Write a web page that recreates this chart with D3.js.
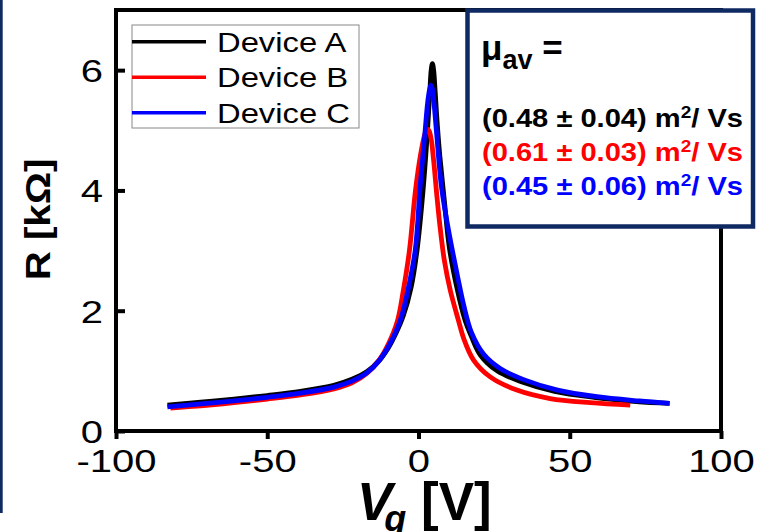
<!DOCTYPE html>
<html>
<head>
<meta charset="utf-8">
<script src="https://cdn.jsdelivr.net/npm/d3@7"></script>
<style>
  body { margin: 0; background: #fff; }
  svg { display: block; }
  text { font-family: "Liberation Sans", Arial, sans-serif; }
</style>
</head>
<body>
<svg id="chart" width="760" height="532"></svg>
<script>
// gate voltage (V) and resistance (kOhm)
const vA = [-83, -72, -61, -50, -39, -28, -22, -17, -13, -10, -7.5, -5, -2.4, -0.5, 1.5, 2.9, 3.7, 4.2, 4.6, 5.0, 5.5, 6.2, 7.0, 8.5, 10.2, 12.7, 15.4, 17.5, 20.5, 26, 34, 45, 58, 72, 83];
const rA = [0.43, 0.48, 0.53, 0.59, 0.66, 0.76, 0.86, 0.99, 1.17, 1.38, 1.62, 1.92, 2.40, 3.0, 4.0, 4.94, 5.6, 6.0, 6.11, 6.0, 5.65, 5.1, 4.6, 3.85, 3.05, 2.38, 1.84, 1.57, 1.26, 1.0, 0.82, 0.66, 0.56, 0.49, 0.46];

const vB = [-82, -72, -61, -50, -39, -28, -22, -17, -13, -10, -7, -5, -3, -1, 0.7, 2.0, 2.5, 3.0, 3.5, 4.2, 5.0, 6.0, 7.0, 8.5, 10.5, 13.2, 15, 18.2, 23.7, 32.5, 43.5, 56.8, 70];
const rB = [0.38, 0.42, 0.47, 0.53, 0.60, 0.70, 0.80, 0.96, 1.18, 1.44, 1.82, 2.34, 3.0, 4.0, 4.6, 4.92, 4.99, 5.02, 4.99, 4.85, 4.5, 3.95, 3.45, 2.85, 2.34, 1.84, 1.53, 1.18, 0.9, 0.68, 0.54, 0.47, 0.43];

const vC = [-83, -72, -61, -50, -39, -28, -22, -17, -13, -10, -7.5, -5.5, -3.5, -1.1, 0.6, 2.1, 3.0, 3.6, 4.1, 4.6, 5.1, 6.0, 7.5, 9, 11, 13, 15, 17.5, 21.5, 27, 35, 46, 59, 73, 83];
const rC = [0.40, 0.45, 0.50, 0.56, 0.63, 0.73, 0.83, 0.97, 1.17, 1.40, 1.65, 1.92, 2.34, 3.0, 4.1, 4.94, 5.45, 5.66, 5.75, 5.68, 5.47, 4.94, 4.1, 3.6, 3.05, 2.55, 2.08, 1.64, 1.28, 1.04, 0.85, 0.68, 0.57, 0.50, 0.46];

const seriesNames = ['Device A', 'Device B', 'Device C'];
const mobilities = ['(0.48 \u00b1 0.04)', '(0.61 \u00b1 0.03)', '(0.45 \u00b1 0.06)'];
const xTicks = [-100, -50, 0, 50, 100];
const yTicks = [0, 2, 4, 6];

const colors = ['#000000', '#ff0000', '#0000ff'];
const navy = '#0f2a62';

const svg = d3.select('#chart');

const x = d3.scaleLinear().domain([-100, 100]).range([116, 721]);
const y = d3.scaleLinear().domain([0, 7]).range([431, 10]);

// left navy strip
svg.append('rect').attr('x', 0).attr('y', 0).attr('width', 2.7).attr('height', 513).attr('fill', navy);

// x axis
const gx = svg.append('g')
  .attr('transform', `translate(0,${y(0)})`)
  .call(d3.axisBottom(x).tickValues(xTicks).tickFormat((d) => String(d)).tickSize(8).tickSizeOuter(0));
gx.select('.domain').remove();
gx.selectAll('line').attr('stroke', '#000').attr('stroke-width', 4);
gx.selectAll('text')
  .attr('y', 41).attr('dy', null)
  .attr('transform', 'scale(1.25,1)')
  .attr('font-size', 32).attr('fill', '#000');

// y axis, ticks pointing inward
const gy = svg.append('g')
  .attr('transform', `translate(${x(-100)},0)`)
  .call(d3.axisLeft(y).tickValues(yTicks).tickFormat((d) => String(d)).tickSize(-9).tickSizeOuter(0));
gy.select('.domain').remove();
gy.selectAll('line').attr('stroke', '#000').attr('stroke-width', 4);
gy.selectAll('text')
  .attr('x', 0).attr('dy', '0.36em')
  .attr('text-anchor', 'end')
  .attr('transform', 'translate(-13,0) scale(1.25,1)')
  .attr('font-size', 32).attr('fill', '#000');

// frame
svg.append('rect')
  .attr('x', x(-100)).attr('y', y(7))
  .attr('width', x(100) - x(-100)).attr('height', y(0) - y(7))
  .attr('fill', 'none').attr('stroke', '#000').attr('stroke-width', 4);

// curves
const line = d3.line()
  .x((d) => x(d[0]))
  .y((d) => y(d[1]))
  .curve(d3.curveCatmullRom.alpha(0.5));

const series = [
  d3.zip(vA, rA),
  d3.zip(vB, rB),
  d3.zip(vC, rC),
];

svg.append('g')
  .selectAll('path')
  .data(series)
  .join('path')
  .attr('d', line)
  .attr('fill', 'none')
  .attr('stroke', (d, i) => colors[i])
  .attr('stroke-width', 4.8)
  .attr('stroke-linejoin', 'round');

// legend
const legend = svg.append('g');
legend.append('rect')
  .attr('x', 132).attr('y', 25).attr('width', 227).attr('height', 103)
  .attr('fill', '#fff').attr('stroke', '#888').attr('stroke-width', 1);
const rows = legend.selectAll('g.row')
  .data(seriesNames)
  .join('g')
  .attr('class', 'row')
  .attr('transform', (d, i) => `translate(132,${41.7 + i * 35.5})`);
rows.append('line')
  .attr('x1', 0).attr('x2', 74)
  .attr('stroke', (d, i) => colors[i]).attr('stroke-width', 3.5);
rows.append('text')
  .attr('transform', 'translate(85,10) scale(1.17,1)')
  .attr('font-size', 28)
  .attr('fill', '#000')
  .text((d) => d);

// axis titles
svg.append('text')
  .attr('transform', `translate(50,${(280 + 159) / 2}) rotate(-90) scale(1.15,1)`)
  .attr('text-anchor', 'middle')
  .attr('font-size', 35)
  .attr('font-weight', 'bold')
  .text('R [k\u03a9]');

const xt = svg.append('text')
  .attr('x', 357).attr('y', 520)
  .attr('font-size', 53)
  .attr('font-weight', 'bold');
xt.append('tspan').attr('font-style', 'italic').text('V');
xt.append('tspan').attr('font-style', 'italic').attr('font-size', 36).attr('dx', -8).attr('dy', 11).text('g');
xt.append('tspan').attr('dy', -11).text(' [V]');

// mobility box
const box = svg.append('g');
box.append('rect')
  .attr('x', 467.5).attr('y', 10.5).attr('width', 285.5).attr('height', 216)
  .attr('fill', '#fff').attr('stroke', navy).attr('stroke-width', 4.5);

const mu = box.append('text')
  .attr('x', 481).attr('y', 60)
  .attr('font-weight', 'bold')
  .attr('font-size', 35)
  .attr('fill', '#000');
mu.append('tspan').text('\u03bc');
mu.append('tspan').attr('font-size', 27).attr('dy', 9).text('av');
mu.append('tspan').attr('dy', -9).text(' =');

box.selectAll('text.mob')
  .data(mobilities)
  .join('text')
  .attr('class', 'mob')
  .attr('x', 482)
  .attr('y', (d, i) => 127 + i * 34)
  .attr('font-size', 26)
  .attr('font-weight', 'bold')
  .attr('fill', (d, i) => colors[i])
  .attr('textLength', 261)
  .attr('lengthAdjust', 'spacingAndGlyphs')
  .each(function (d) {
    const t = d3.select(this);
    t.append('tspan').text(d + ' m');
    t.append('tspan').attr('font-size', 17).attr('dy', -9).text('2');
    t.append('tspan').attr('dy', 9).text('/ Vs');
  });
</script>
</body>
</html>
